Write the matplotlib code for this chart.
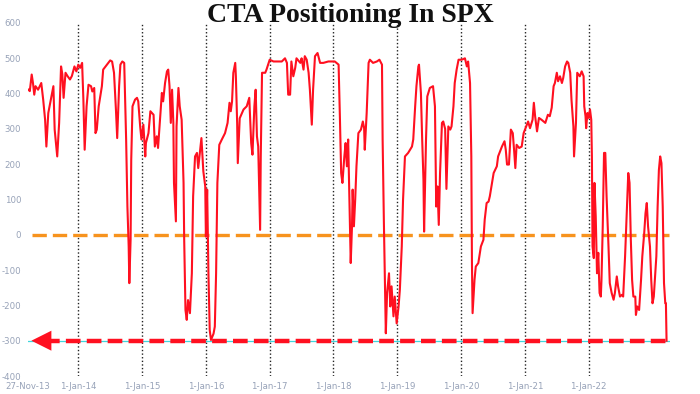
import matplotlib
matplotlib.use("Agg")
import matplotlib.pyplot as plt

# ---- data (decimal years, CTA SPX positioning, $bn) ----
years = [
    2013.22, 2013.24, 2013.27, 2013.29, 2013.31, 2013.33, 2013.37, 2013.42, 2013.45, 2013.48,
    2013.50, 2013.53, 2013.58, 2013.61, 2013.63, 2013.67, 2013.70, 2013.73, 2013.75, 2013.77,
    2013.80, 2013.83, 2013.87, 2013.90, 2013.94, 2013.97, 2014.00, 2014.03, 2014.06, 2014.08,
    2014.10, 2014.13, 2014.16, 2014.20, 2014.22, 2014.25, 2014.27, 2014.29, 2014.32, 2014.37,
    2014.39, 2014.45, 2014.50, 2014.53, 2014.56, 2014.59, 2014.61, 2014.64, 2014.66, 2014.69,
    2014.72, 2014.73, 2014.75, 2014.77, 2014.79, 2014.80, 2014.82, 2014.83, 2014.85, 2014.89,
    2014.92, 2014.94, 2014.97, 2014.99, 2015.02, 2015.05, 2015.06, 2015.10, 2015.13, 2015.18,
    2015.20, 2015.23, 2015.25, 2015.28, 2015.31, 2015.33, 2015.36, 2015.39, 2015.41, 2015.43,
    2015.45, 2015.47, 2015.49, 2015.50, 2015.53, 2015.54, 2015.57, 2015.59, 2015.62, 2015.65,
    2015.66, 2015.68, 2015.70, 2015.72, 2015.75, 2015.78, 2015.80, 2015.83, 2015.86, 2015.88,
    2015.91, 2015.93, 2015.96, 2015.99, 2016.00, 2016.02, 2016.04, 2016.06, 2016.08, 2016.12,
    2016.14, 2016.16, 2016.18, 2016.21, 2016.25, 2016.30, 2016.34, 2016.37, 2016.39, 2016.41,
    2016.43, 2016.46, 2016.47, 2016.49, 2016.50, 2016.53, 2016.59, 2016.64, 2016.68, 2016.71,
    2016.73, 2016.76, 2016.78, 2016.80, 2016.82, 2016.85, 2016.86, 2016.88, 2016.93, 2016.95,
    2017.00, 2017.06, 2017.11, 2017.19, 2017.24, 2017.27, 2017.29, 2017.32, 2017.34, 2017.37,
    2017.40, 2017.42, 2017.48, 2017.50, 2017.53, 2017.55, 2017.58, 2017.61, 2017.63, 2017.66,
    2017.68, 2017.71, 2017.75, 2017.79, 2017.84, 2017.92, 2018.02, 2018.08, 2018.10, 2018.12,
    2018.14, 2018.17, 2018.19, 2018.21, 2018.23, 2018.25, 2018.27, 2018.29, 2018.30, 2018.32,
    2018.34, 2018.36, 2018.39, 2018.43, 2018.46, 2018.48, 2018.49, 2018.52, 2018.55, 2018.57,
    2018.62, 2018.68, 2018.72, 2018.76, 2018.77, 2018.79, 2018.81, 2018.82, 2018.84, 2018.87,
    2018.89, 2018.91, 2018.94, 2018.96, 2018.99, 2019.02, 2019.04, 2019.07, 2019.09, 2019.12,
    2019.17, 2019.23, 2019.25, 2019.28, 2019.30, 2019.33, 2019.34, 2019.37, 2019.39, 2019.41,
    2019.42, 2019.45, 2019.47, 2019.51, 2019.56, 2019.59, 2019.61, 2019.63, 2019.65, 2019.67,
    2019.70, 2019.72, 2019.75, 2019.77, 2019.80, 2019.83, 2019.85, 2019.88, 2019.90, 2019.93,
    2019.96, 2020.01, 2020.06, 2020.09, 2020.11, 2020.14, 2020.16, 2020.17, 2020.18, 2020.21,
    2020.23, 2020.27, 2020.31, 2020.35, 2020.37, 2020.40, 2020.43, 2020.45, 2020.51, 2020.56,
    2020.58, 2020.64, 2020.68, 2020.70, 2020.72, 2020.75, 2020.78, 2020.81, 2020.83, 2020.85,
    2020.87, 2020.91, 2020.95, 2020.98, 2021.01, 2021.05, 2021.08, 2021.12, 2021.14, 2021.16,
    2021.19, 2021.22, 2021.26, 2021.32, 2021.36, 2021.39, 2021.42, 2021.45, 2021.47, 2021.50,
    2021.52, 2021.55, 2021.58, 2021.60, 2021.63, 2021.66, 2021.68, 2021.71, 2021.73, 2021.76,
    2021.77, 2021.80, 2021.82, 2021.86, 2021.89, 2021.92, 2021.93, 2021.95, 2021.96, 2021.98,
    2022.00, 2022.02, 2022.04, 2022.05, 2022.06, 2022.08, 2022.09, 2022.11, 2022.13, 2022.15,
    2022.17, 2022.19, 2022.20, 2022.22, 2022.24, 2022.26, 2022.28, 2022.31, 2022.33, 2022.36,
    2022.39, 2022.41, 2022.44, 2022.46, 2022.49, 2022.52, 2022.54, 2022.57, 2022.60, 2022.62,
    2022.64, 2022.66, 2022.68, 2022.70, 2022.73, 2022.74, 2022.76, 2022.79, 2022.82, 2022.84,
    2022.87, 2022.89, 2022.91, 2022.93, 2022.96, 2022.98, 2023.00, 2023.02, 2023.06, 2023.08,
    2023.10, 2023.12, 2023.14, 2023.16, 2023.18, 2023.20, 2023.21, 2023.22,
]
positioning = [
    411, 407, 454, 430, 397, 421, 411, 430, 383, 326,
    250, 345, 392, 421, 298, 222, 317, 477, 455, 388,
    459, 450, 440, 450, 477, 463, 482, 473, 487, 383,
    241, 364, 425, 421, 406, 416, 288, 298, 364, 421,
    468, 482, 494, 491, 459, 355, 274, 421, 482, 491,
    487, 411, 270, 80, -33, -137, -14, 213, 364, 383,
    388, 378, 307, 270, 312, 222, 260, 288, 350, 340,
    250, 279, 246, 326, 402, 378, 430, 463, 468, 421,
    317, 411, 317, 147, 38, 307, 416, 364, 326, 147,
    -14, -213, -241, -185, -222, -109, 109, 222, 232, 189,
    241, 274, 180, 137, -5, 128, -109, -270, -298, -280,
    -260, -109, 147, 255, 270, 288, 317, 374, 350, 378,
    459, 487, 449, 317, 203, 330, 355, 364, 388, 260,
    227, 364, 411, 279, 250, 14, 222, 459, 459, 468,
    496, 491, 491, 491, 500, 487, 397, 397, 491, 449,
    473, 500, 487, 500, 468, 506, 496, 459, 411, 312,
    411, 506, 515, 487, 487, 491, 491, 482, 336, 175,
    147, 222, 260, 194, 270, 99, -80, 24, 128, 24,
    99, 194, 288, 298, 321, 302, 241, 345, 487, 496,
    487, 491, 496, 482, 270, 33, -175, -279, -165, -109,
    -203, -146, -231, -175, -251, -203, -156, -33, 99, 222,
    232, 250, 270, 364, 421, 477, 482, 402, 270, 156,
    9, 270, 392, 416, 421, 364, 80, 137, 28, 175,
    317, 321, 300, 130, 307, 298, 307, 364, 430, 468,
    496, 496, 500, 477, 491, 430, 222, -80, -222, -128,
    -90, -80, -33, -14, 43, 90, 94, 109, 175, 194,
    222, 250, 265, 241, 199, 199, 298, 288, 241, 189,
    255, 246, 250, 288, 302, 321, 302, 326, 374, 336,
    293, 331, 326, 317, 340, 336, 360, 421, 430, 459,
    435, 449, 430, 444, 477, 491, 487, 459, 383, 307,
    222, 317, 459, 449, 463, 449, 364, 336, 302, 345,
    331, 355, 326, 222, -33, -66, 147, 52, -109, -51,
    -165, -175, -128, 24, 232, 232, 109, -33, -137, -165,
    -184, -165, -118, -146, -175, -170, -175, -61, 80, 175,
    147, -14, -128, -175, -175, -227, -203, -213, -128, -61,
    5, 61, 90, 24, -33, -128, -194, -175, -61, 80,
    184, 222, 203, 80, -137, -194, -194, -300,
]

zero_level = 0
floor_level = -300
year_ticks = [2014, 2015, 2016, 2017, 2018, 2019, 2020, 2021, 2022]
year_labels = ["1-Jan-14", "1-Jan-15", "1-Jan-16", "1-Jan-17", "1-Jan-18",
               "1-Jan-19", "1-Jan-20", "1-Jan-21", "1-Jan-22"]
first_label = "27-Nov-13"
y_ticks = [-400, -300, -200, -100, 0, 100, 200, 300, 400, 500, 600]
title = "CTA Positioning In SPX"

XMIN, XMAX = 2013.212, 2023.274
YMIN, YMAX = -400, 600

fig = plt.figure(figsize=(7.0, 3.94), dpi=100)
ax = fig.add_axes([28 / 700, 1 - 376 / 394, 642 / 700, 353 / 394])
ax.set_xlim(XMIN, XMAX)
ax.set_ylim(YMIN, YMAX)
for s in ax.spines.values():
    s.set_visible(False)

# vertical dotted year lines
ax.vlines(year_ticks, YMIN, YMAX, colors="#222222", linestyles=(0, (1, 1.6)),
          linewidth=1.0, zorder=1)

# cyan thin line at floor
ax.plot([XMIN, XMAX], [floor_level, floor_level], color="#3fd6dc", lw=0.9, zorder=2)

# orange dashed zero line
ax.plot([2013.27, 2023.26], [zero_level, zero_level], color="#f7931e", lw=2.4,
        dashes=(4.3, 1.8), solid_capstyle="butt", dash_capstyle="butt", zorder=3)

# data line
ax.plot(years, positioning, color="#ff1020", lw=1.5, zorder=4)

# red dashed floor line with arrow
ax.plot([2013.48, 2023.24], [floor_level, floor_level], color="#ff1020", lw=3.2,
        dashes=(3.3, 1.4), dash_capstyle="butt", zorder=5)
ax.annotate("", xy=(2013.265, floor_level), xytext=(2013.50, floor_level),
            arrowprops=dict(arrowstyle="-|>,head_length=0.9,head_width=0.45",
                            color="#ff1020", lw=0, shrinkA=0, shrinkB=0,
                            mutation_scale=16), zorder=6)

# ticks
ax.set_yticks(y_ticks)
ax.set_yticklabels([str(v) for v in y_ticks])
ax.set_xticks([XMIN] + year_ticks)
ax.set_xticklabels([first_label] + year_labels)
ax.tick_params(axis="both", length=0, labelsize=6.2, labelcolor="#97a2b8")
ax.tick_params(axis="y", pad=5)
ax.tick_params(axis="x", pad=4)

fig.text(0.5, 1 - 15 / 394, title, ha="center", va="center",
         fontsize=20, fontweight="bold", family="Liberation Serif", color="#111111")

fig.savefig("out.png", dpi=100)
